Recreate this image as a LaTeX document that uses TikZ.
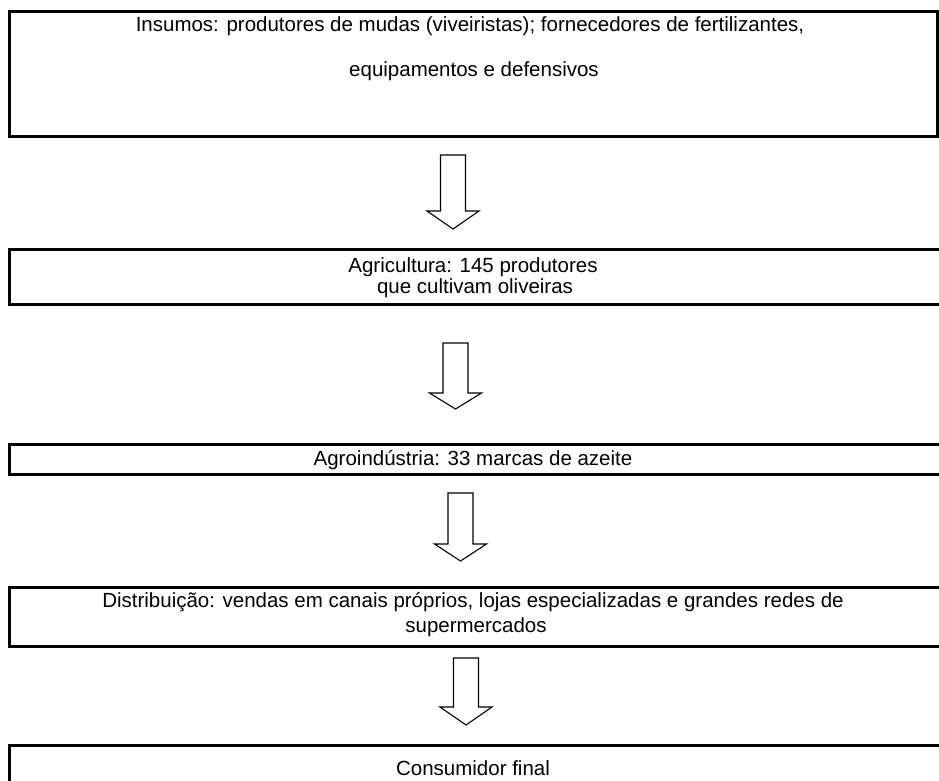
\documentclass[tikz,border=0pt]{standalone}
\usepackage{fontspec}
\setmainfont{Liberation Sans}
\usetikzlibrary{positioning}

\begin{document}
\begin{tikzpicture}[x=1pt,y=-1pt,
    stage/.style={draw,line width=2.5pt,inner sep=0pt,anchor=north west},
    txt/.style={font=\fontsize{20.5}{24}\selectfont,inner sep=0pt,anchor=base},
    flow/.style={draw,line width=1.1pt,fill=white,line join=miter}]
  \useasboundingbox (0,0) rectangle (939,780);

  % the five stages of the chain
  \node [stage,minimum width=928pt,minimum height=125pt] (ins) at (8,10) {};
  \node [stage,minimum width=936pt,minimum height=55pt]  (agr) at (8,248) {};
  \node [stage,minimum width=936pt,minimum height=30pt]  (ind) at (8,443) {};
  \node [stage,minimum width=936pt,minimum height=59pt]  (dis) at (8,586) {};
  \node [stage,minimum width=936pt,minimum height=45pt]  (con) at (8,744) {};

  \node [txt] (ins-1) at (470,31)
    {Insumos: produtores de mudas (viveiristas); fornecedores de fertilizantes,};
  \node [txt] (ins-2) at (474,76) {equipamentos e defensivos};
  \node [txt] (agr-1) at (473,272) {Agricultura: 145 produtores};
  \node [txt] (agr-2) at (475,293) {que cultivam oliveiras};
  \node [txt] (ind-1) at (473,465) {Agroindústria: 33 marcas de azeite};
  \node [txt] (dis-1) at (473,607)
    {Distribuição: vendas em canais próprios, lojas especializadas e grandes redes de};
  \node [txt] (dis-2) at (476,632) {supermercados};
  \node [txt] (con-1) at (473,775) {Consumidor final};

  % block arrows between the stages
  \foreach \cx/\top/\sh/\tip in {453/155/211/229, 455.5/343/393/409,
                                 460.5/493/544/561, 466/658/707/725}
    \draw [flow] (\cx-12.5,\top) -- (\cx+12.5,\top) -- (\cx+12.5,\sh)
      -- (\cx+26,\sh) -- (\cx,\tip) -- (\cx-26,\sh) -- (\cx-12.5,\sh) -- cycle;
\end{tikzpicture}
\end{document}
